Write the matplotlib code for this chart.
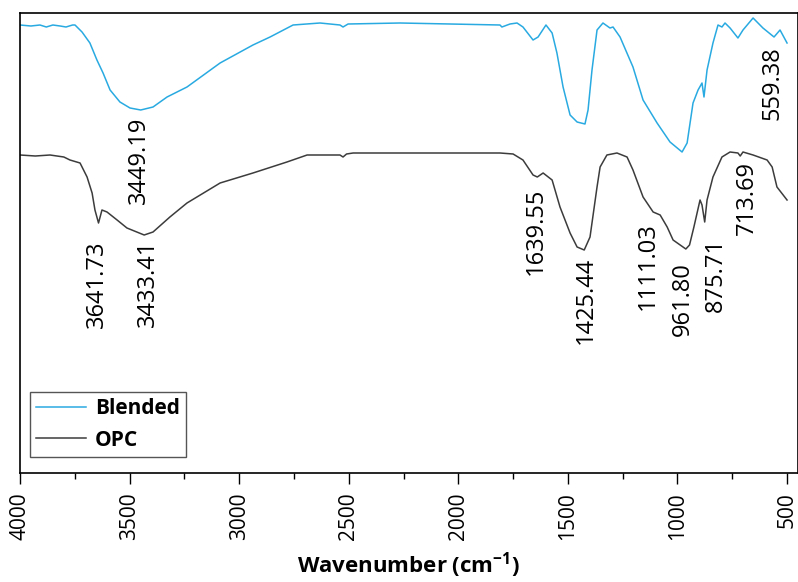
import matplotlib
matplotlib.use("Agg")
import matplotlib.pyplot as plt
import numpy as np

plt.rcParams['font.family'] = ['Open Sans', 'DejaVu Sans']
plt.rcParams['mathtext.fontset'] = 'custom'
plt.rcParams['mathtext.rm'] = 'Open Sans'
plt.rcParams['mathtext.bf'] = 'Open Sans:bold'

# FTIR spectra (wavenumber in cm-1, transmittance in arbitrary offset units)
blended_wn = [4000, 3950, 3909, 3880, 3850, 3817, 3790, 3760, 3749, 3717, 3681, 3649,
              3621, 3589, 3544, 3498, 3449.19, 3393, 3329, 3238, 3087, 2937, 2859,
              2754, 2631, 2540, 2526, 2503, 2266, 1810, 1801, 1764, 1732, 1705, 1659,
              1636, 1600, 1572, 1550, 1522, 1490, 1458, 1422, 1408, 1390, 1367, 1340,
              1308, 1294, 1262, 1203, 1157, 1093, 1034, 979, 956, 929, 906, 888, 879,
              865, 838, 815, 797, 783, 760, 724, 701, 655, 610, 559.38, 532, 500]
blended_t = [448, 447, 448, 446, 448, 447, 446, 448, 448, 441, 430, 413,
             400, 383, 371, 365, 363, 366, 376, 386, 410, 428, 436,
             448, 450, 448, 446, 449, 450, 448, 446, 449, 450, 446, 433,
             436, 448, 440, 420, 386, 358, 351, 349, 363, 403, 443, 450,
             445, 446, 436, 406, 373, 350, 331, 321, 330, 370, 383, 390, 376,
             403, 430, 448, 446, 450, 445, 435, 443, 455, 445, 436, 443, 430]

opc_wn = [4000, 3930, 3863, 3800, 3772, 3726, 3694, 3671, 3658, 3641.73, 3626, 3603,
          3557, 3512, 3433.41, 3393, 3316, 3238, 3087, 2937, 2782, 2690, 2540, 2526,
          2510, 2480, 2266, 1810, 1750, 1705, 1659, 1639.55, 1613, 1572, 1536, 1490,
          1458, 1425.44, 1399, 1367, 1353, 1322, 1276, 1230, 1203, 1157, 1111.03,
          1079, 1047, 1020, 961.80, 945, 925, 897, 888, 875.71, 865, 838, 797, 760,
          724, 713.69, 701, 655, 591, 568, 546, 500]
opc_t = [318, 317, 318, 316, 313, 310, 296, 280, 263, 250, 263, 261,
         253, 245, 238, 241, 256, 270, 290, 300, 311, 318, 318, 316,
         319, 320, 320, 320, 319, 313, 298, 296, 300, 293, 266, 240,
         226, 223, 236, 286, 306, 318, 320, 316, 303, 276, 261,
         258, 246, 233, 224, 228, 246, 273, 268, 251, 273, 296, 316, 321,
         320, 317, 321, 318, 313, 306, 286, 273]

# peak labels, top of each label in data units and a sideways nudge in points
peak_labels = ['3449.19', '3641.73', '3433.41', '1639.55', '1425.44',
               '1111.03', '961.80', '875.71', '713.69', '559.38']
label_tops = [356, 233, 233, 285, 216, 251, 211, 235, 312, 427]
label_dx = [-1, -1, 3, -1, 1, -4, -2, 8, 5, -1]

fig = plt.figure(figsize=(7.98, 5.82), dpi=100)
ax = fig.add_axes([20 / 798, 1 - 473 / 582, 778 / 798, 460 / 582])

ax.plot(blended_wn, blended_t, color='#29aae1', lw=1.1, label='Blended')
ax.plot(opc_wn, opc_t, color='#3c3c3c', lw=1.1, label='OPC')

for txt, top, dx in zip(peak_labels, label_tops, label_dx):
    ax.annotate(txt, xy=(float(txt), top), xytext=(dx, 0), textcoords='offset points',
                rotation=90, ha='center', va='top', fontsize=17)

ax.set_xlim(4000, 450)
ax.set_ylim(0, 460)
ax.set_xticks(np.arange(4000, 499, -500))
ax.set_xticks(np.arange(3750, 499, -500), minor=True)
ax.tick_params(axis='x', which='major', direction='out', length=8, width=1,
               labelsize=15, labelrotation=90, pad=6)
ax.tick_params(axis='x', which='minor', direction='out', length=4, width=1)
ax.set_yticks([])
for s in ax.spines.values():
    s.set_linewidth(1.2)

ax.set_xlabel('Wavenumber (cm$^{\\mathbf{-1}}$)', fontsize=16, fontweight='bold', labelpad=7)

leg = ax.legend(loc='lower left', bbox_to_anchor=(0.013, 0.035), borderaxespad=0,
                fancybox=False, edgecolor='#555555', framealpha=1,
                prop={'weight': 'bold', 'size': 15}, handlelength=2.4,
                handletextpad=0.4, borderpad=0.3, labelspacing=0.5)
leg.get_frame().set_linewidth(1.0)

fig.savefig('out.png', dpi=100)
